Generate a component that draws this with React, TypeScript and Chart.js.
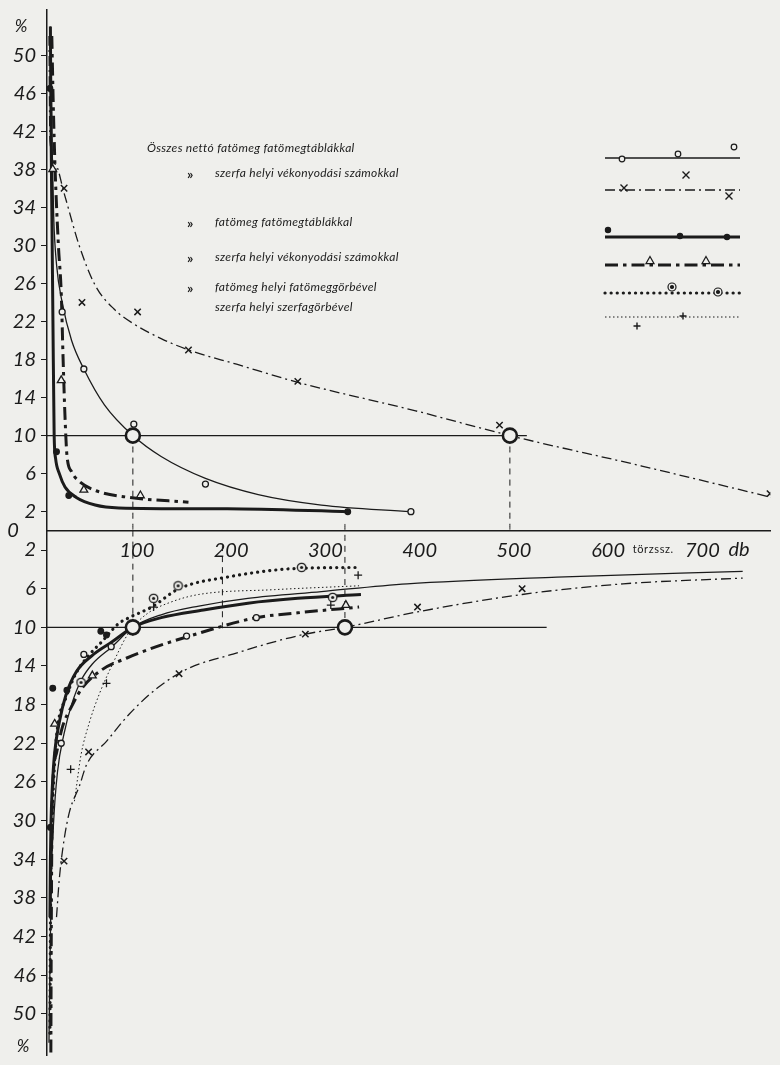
import React, { useEffect, useRef } from "react";
import { Chart, registerables } from "chart.js";

Chart.register(...registerables);

const BG = "#efefec";
const INK = "#1b1b1b";
const TICK_FONT = "Lato, 'DejaVu Sans', sans-serif";

// ---- axis ticks ----
const xTickValues = [100, 200, 300, 400, 500, 600, 700];
const yTickValues = [2, 6, 10, 14, 18, 22, 26, 30, 34, 38, 42, 46, 50];

// ---- legend texts ----
const legendTexts = [
  "Összes nettó fatömeg fatömegtáblákkal",
  "szerfa helyi vékonyodási számokkal",
  "fatömeg fatömegtáblákkal",
  "szerfa helyi vékonyodási számokkal",
  "fatömeg helyi fatömeggörbével",
  "szerfa helyi szerfagörbével",
];

// ---- series 1: összes nettó fatömeg fatömegtáblákkal (thin solid, open circles) ----
const s1Top = [[12.5, 53], [14, 42], [16, 33], [19, 28], [25, 24], [35, 20], [48, 17], [70, 13.2], [100, 10], [130, 7.8], [177, 5.5], [233, 3.8], [300, 2.7], [395, 2.0]];
const s1TopMarks = [[25, 23], [48, 17], [101, 11.2], [177, 4.9], [395, 2.0]];
const s1Bottom = [[11, -53], [12, -45], [13.5, -36], [16, -30], [20, -25], [27, -21], [35, -18], [45, -15.5], [57, -13.8], [78, -12.0], [100, -10], [130, -8.7], [170, -7.8], [222, -7.0], [300, -6.3], [391, -5.5], [550, -4.8], [747, -4.2]];
const s1BottomMarks = [[24, -22], [48, -12.8], [77, -12], [157, -10.9], [231, -9]];

// ---- series 2: összes szerfa helyi vékonyodási számokkal (thin dash-dot, crosses) ----
const s2Top = [[11, 52], [12, 41], [18, 38.5], [27, 35.5], [43, 30], [60, 25.8], [80, 23.3], [100, 21.8], [130, 20.2], [159, 19], [210, 17.5], [275, 15.6], [400, 12.6], [500, 10], [640, 6.8], [782, 3.4]];
const s2TopMarks = [[27, 36], [46, 24], [105, 23], [159, 19], [275, 15.7], [489, 11.1], [776, 3.9]];
const s2Bottom = [[19, -40], [22, -36], [27, -32], [33, -29], [43, -26.5], [51, -24.2], [72, -21.8], [96, -19], [127, -16.2], [160, -14.2], [205, -12.8], [250, -11.5], [283, -10.7], [325, -10], [402, -8.4], [513, -6.6], [620, -5.5], [747, -4.9]];
const s2BottomMarks = [[27, -34.2], [53, -22.9], [149, -14.8], [283, -10.7], [402, -7.9], [513, -6.0]];

// ---- series 3: fatömeg fatömegtáblákkal (thick solid, filled dots) ----
const s3Top = [[12.5, 53], [13.2, 42], [14.2, 32], [15.2, 22], [16.5, 10], [18, 7.6], [22, 6], [28, 4.6], [40, 3.5], [60, 2.7], [85, 2.4], [200, 2.3], [330, 2.0]];
const s3TopMarks = [[12, 46.5], [19, 8.3], [32, 3.7], [328, 2.0]];
const s3Bottom = [[12, -40], [12.5, -34], [13.2, -30], [14.5, -26.6], [17, -23], [22, -19.8], [29, -17], [40, -14.6], [57, -12.9], [78, -11.5], [100, -10], [130, -9], [175, -8.2], [222, -7.5], [275, -7.0], [342, -6.6]];
const s3BottomMarks = [[12.5, -30.7], [15, -16.3], [30, -16.5], [66, -10.4], [72, -10.8]];

// ---- series 4: szerfa helyi vékonyodási számokkal (thick dash-dot, triangles) ----
const s4Top = [[14, 52], [15.5, 45], [17.5, 38], [21, 30], [24, 25], [26, 18], [28, 12], [30, 8], [35, 6.2], [43, 5.2], [61, 4.2], [96, 3.5], [159, 3.0]];
const s4TopMarks = [[15, 38], [24, 15.8], [48, 4.3], [108, 3.7]];
const s4Bottom = [[13, -54], [13.3, -45], [13.8, -35], [14.8, -27], [19, -23], [25, -20.4], [36, -18], [46, -16.3], [67, -14.4], [93, -13.2], [125, -12], [157, -11], [231, -9], [275, -8.5], [340, -7.9]];
const s4BottomMarks = [[17, -20], [57, -15], [326, -7.7]];

// ---- series 5: fatömeg helyi fatömeggörbével (thick dotted, circled dots) ----
const s5Bottom = [[12, -52], [12.6, -40], [14.5, -30], [17, -24], [20, -20.4], [29, -17.3], [40, -14.7], [56, -12.6], [67, -11.5], [85, -9.6], [96, -9], [120, -7.9], [149, -6], [200, -4.8], [275, -3.9], [342, -3.8]];
const s5BottomMarks = [[45, -15.7], [122, -7.0], [148, -5.7], [279, -3.8], [312, -6.9]];

// ---- series 6: szerfa helyi szerfagörbével (fine dotted, plus) ----
const s6Bottom = [[38, -28], [40, -26.6], [45, -23.2], [54, -19.8], [64, -17], [78, -13.9], [96, -10.5], [115, -8.6], [140, -7.4], [170, -6.6], [250, -6.1], [340, -5.7]];
const s6BottomMarks = [[34, -24.7], [72, -15.8], [122, -7.9], [310, -7.7], [339, -4.6]];

// ---- reference marks ----
const level10Top = [[8.9, 10], [518, 10]];
const level10Bottom = [[8.9, -10], [539, -10]];
const dashed100Top = [[100, 10], [100, 0]];
const dashed100Bottom = [[100, 0], [100, -11]];
const dashed500 = [[500, 10], [500, 0]];
const dashed195 = [[195, -1.5], [195, -10.5]];
const dashed325 = [[325, 0.7], [325, -10]];
const bigCirclesTop = [[100, 10], [500, 10]];
const bigCirclesBottom = [[100, -10], [325, -10]];

// the lower (mirrored) half is drawn slightly taller than the upper half
const TOP_PX_PER_UNIT = 9.6;
const BOTTOM_PX_PER_UNIT = 9.75;
const K = BOTTOM_PX_PER_UNIT / TOP_PX_PER_UNIT;

const toPts = (a: number[][]) => a.map(([x, y]) => ({ x, y }));

const DASHDOT_THIN = [10, 4, 2, 4];
const DASHDOT_THICK = [13, 5, 3.5, 5];
const DOTTED_THICK = [0.1, 6];
const DOTTED_FINE = [1.5, 2.5];

function makeCircleDot(): HTMLCanvasElement {
  const c = document.createElement("canvas");
  c.width = 11;
  c.height = 11;
  const g = c.getContext("2d")!;
  g.fillStyle = BG;
  g.strokeStyle = INK;
  g.lineWidth = 1.3;
  g.beginPath();
  g.arc(5.5, 5.5, 4.2, 0, Math.PI * 2);
  g.fill();
  g.stroke();
  g.fillStyle = INK;
  g.beginPath();
  g.arc(5.5, 5.5, 1.6, 0, Math.PI * 2);
  g.fill();
  return c;
}

function lineDs(data: number[][], axis: string, width: number, dash: number[], cap: CanvasLineCap = "butt") {
  return {
    data: toPts(data),
    yAxisID: axis,
    showLine: true,
    pointRadius: 0,
    borderColor: INK,
    borderWidth: width,
    borderDash: dash,
    borderCapStyle: cap,
    cubicInterpolationMode: "monotone",
    tension: 0.4,
    fill: false,
    order: 3,
  };
}

function markDs(data: number[][], axis: string, style: any, radius: number, filled: boolean, bw = 1.3) {
  return {
    data: toPts(data),
    yAxisID: axis,
    showLine: false,
    pointStyle: style,
    pointRadius: radius,
    pointBorderWidth: bw,
    pointBorderColor: INK,
    pointBackgroundColor: filled ? INK : BG,
    order: 2,
  };
}

function bigDs(data: number[][], axis: string) {
  return {
    data: toPts(data),
    yAxisID: axis,
    showLine: false,
    pointStyle: "circle",
    pointRadius: 7,
    pointBorderWidth: 2.6,
    pointBorderColor: INK,
    pointBackgroundColor: BG,
    order: 1,
  };
}

const zeroPad = (s: any) => {
  s.paddingTop = 0;
  s.paddingBottom = 0;
  s.paddingLeft = 0;
  s.paddingRight = 0;
};

// legend + extra labels, drawn on top of chart
const decorPlugin = {
  id: "decor",
  afterDraw(chart: any) {
    const ctx: CanvasRenderingContext2D = chart.ctx;
    const xs = chart.scales.x;
    const ys = chart.scales.y;
    const yb = chart.scales.yb;
    ctx.save();
    ctx.fillStyle = INK;
    ctx.strokeStyle = INK;

    // axis extras
    ctx.font = `italic 20px ${TICK_FONT}`;
    ctx.textAlign = "center";
    ctx.textBaseline = "middle";
    ctx.fillText("0", 13, ys.getPixelForValue(0));
    ctx.font = `italic 17px ${TICK_FONT}`;
    ctx.fillText("%", 21, ys.getPixelForValue(53.0));
    ctx.fillText("%", 23, yb.getPixelForValue(-53.4));
    ctx.font = `italic 20px ${TICK_FONT}`;
    ctx.textAlign = "left";
    ctx.fillText("db", xs.getPixelForValue(700) + 30, ys.getPixelForValue(0) + 19);
    ctx.font = `11px ${TICK_FONT}`;
    (ctx as any).letterSpacing = "0.6px";
    ctx.textAlign = "center";
    ctx.fillText("törzssz.", xs.getPixelForValue(650) + 2, ys.getPixelForValue(0) + 19);
    (ctx as any).letterSpacing = "0.3px";

    // legend texts
    ctx.font = `italic 12px ${TICK_FONT}`;
    ctx.textAlign = "left";
    const rowsY = [148, 173, 222, 257, 287, 307];
    ctx.fillText(legendTexts[0], 147, rowsY[0]);
    for (let i = 1; i < 6; i++) {
      ctx.fillText(legendTexts[i], 215, rowsY[i]);
    }
    (ctx as any).letterSpacing = "0px";
    ctx.font = `bold 14px ${TICK_FONT}`;
    for (let i = 1; i < 5; i++) ctx.fillText("»", 187, rowsY[i] + 1);

    // legend samples
    const x0 = 605, x1 = 740;
    const seg = (y: number, w: number, dash: number[], cap: CanvasLineCap = "butt") => {
      ctx.beginPath();
      ctx.lineWidth = w;
      ctx.lineCap = cap;
      ctx.setLineDash(dash);
      ctx.moveTo(x0, y);
      ctx.lineTo(x1, y);
      ctx.stroke();
      ctx.setLineDash([]);
      ctx.lineCap = "butt";
    };
    const circ = (x: number, y: number, r: number, filled: boolean) => {
      ctx.beginPath();
      ctx.lineWidth = 1.2;
      ctx.arc(x, y, r, 0, Math.PI * 2);
      ctx.fillStyle = filled ? INK : BG;
      ctx.fill();
      ctx.stroke();
      ctx.fillStyle = INK;
    };
    const cross = (x: number, y: number, r: number, rot: boolean) => {
      ctx.beginPath();
      ctx.lineWidth = 1.4;
      if (rot) {
        ctx.moveTo(x - r, y - r); ctx.lineTo(x + r, y + r);
        ctx.moveTo(x - r, y + r); ctx.lineTo(x + r, y - r);
      } else {
        ctx.moveTo(x - r, y); ctx.lineTo(x + r, y);
        ctx.moveTo(x, y - r); ctx.lineTo(x, y + r);
      }
      ctx.stroke();
    };
    const tri = (x: number, y: number, r: number) => {
      ctx.beginPath();
      ctx.lineWidth = 1.2;
      ctx.moveTo(x, y - r);
      ctx.lineTo(x + r * 0.9, y + r * 0.6);
      ctx.lineTo(x - r * 0.9, y + r * 0.6);
      ctx.closePath();
      ctx.fillStyle = BG;
      ctx.fill();
      ctx.stroke();
      ctx.fillStyle = INK;
    };
    seg(158, 1.3, []);
    circ(622, 159, 2.8, false); circ(678, 154, 2.8, false); circ(734, 147, 2.8, false);
    seg(190, 1.3, DASHDOT_THIN);
    cross(624, 188, 3.5, true); cross(686, 175, 3.5, true); cross(729, 196, 3.5, true);
    seg(237, 3, []);
    circ(608, 230, 2.6, true); circ(680, 236, 2.6, true); circ(727, 237, 2.6, true);
    seg(265, 3, DASHDOT_THICK);
    tri(650, 261, 4.5); tri(706, 261, 4.5);
    seg(293, 3.2, DOTTED_THICK, "round");
    circ(672, 287, 4, false); circ(672, 287, 1.5, true);
    circ(718, 292, 4, false); circ(718, 292, 1.5, true);
    seg(317, 1, DOTTED_FINE);
    cross(637, 326, 3.5, false); cross(683, 316, 3.5, false);

    ctx.restore();
  },
};

const tickFont = { family: TICK_FONT, size: 20, style: "italic" };

export default function App() {
  const ref = useRef<HTMLCanvasElement | null>(null);

  useEffect(() => {
    if (!ref.current) return;
    const circleDot = makeCircleDot();
    const T = "y";
    const B = "yb";
    const datasets: any[] = [
      lineDs(level10Top, T, 1.3, []),
      lineDs(level10Bottom, B, 1.3, []),
      lineDs(dashed100Top, T, 1, [6, 5]),
      lineDs(dashed100Bottom, B, 1, [6, 5]),
      lineDs(dashed500, T, 1, [6, 5]),
      lineDs(dashed195, B, 1, [6, 5]),
      lineDs(dashed325, B, 1, [6, 5]),
      lineDs(s1Top, T, 1.3, []),
      lineDs(s1Bottom, B, 1.3, []),
      lineDs(s2Top, T, 1.3, DASHDOT_THIN),
      lineDs(s2Bottom, B, 1.3, DASHDOT_THIN),
      lineDs(s3Top, T, 3, []),
      lineDs(s3Bottom, B, 3, []),
      lineDs(s4Top, T, 3, DASHDOT_THICK),
      lineDs(s4Bottom, B, 3, DASHDOT_THICK),
      lineDs(s5Bottom, B, 3.2, DOTTED_THICK, "round"),
      lineDs(s6Bottom, B, 1, DOTTED_FINE),
      markDs(s1TopMarks, T, "circle", 3, false),
      markDs(s1BottomMarks, B, "circle", 3, false),
      markDs(s2TopMarks, T, "crossRot", 4.5, false, 1.5),
      markDs(s2BottomMarks, B, "crossRot", 4.5, false, 1.5),
      markDs(s3TopMarks, T, "circle", 2.8, true),
      markDs(s3BottomMarks, B, "circle", 2.8, true),
      markDs(s4TopMarks, T, "triangle", 4.5, false),
      markDs(s4BottomMarks, B, "triangle", 4.5, false),
      markDs(s5BottomMarks, B, circleDot, 5, false),
      markDs(s6BottomMarks, B, "cross", 4, false, 1.3),
      bigDs(bigCirclesTop, T),
      bigDs(bigCirclesBottom, B),
    ];

    const chart = new Chart(ref.current, {
      type: "scatter",
      data: { datasets },
      plugins: [decorPlugin],
      options: {
        animation: false,
        responsive: true,
        maintainAspectRatio: false,
        layout: { padding: { left: 0, right: 0, top: 10, bottom: 0 } },
        plugins: { legend: { display: false }, tooltip: { enabled: false } },
        scales: {
          x: {
            type: "linear",
            min: 8.9,
            max: 776.4,
            position: { y: 0 } as any,
            afterFit: zeroPad,
            afterBuildTicks: (s: any) => {
              s.ticks = xTickValues.map((v) => ({ value: v }));
            },
            grid: { display: false, drawTicks: false },
            border: { display: true, color: INK, width: 1.5 },
            ticks: {
              color: INK,
              font: tickFont,
              padding: 8,
              labelOffset: 4,
              maxRotation: 0,
              autoSkip: false,
              callback: (v: any) => String(v),
            },
          },
          // upper half: 0 at 535.5 px, 9.6 px per unit; also carries the
          // lower half's tick labels, placed where the lower scale puts them
          y: {
            type: "linear",
            min: -529.5 / TOP_PX_PER_UNIT,
            max: 525.5 / TOP_PX_PER_UNIT,
            position: "left",
            afterFit: (s: any) => {
              s.width = 47;
              zeroPad(s);
            },
            afterBuildTicks: (s: any) => {
              const lower = yTickValues.map((v) => ({ value: -v * K }));
              const upper = yTickValues.map((v) => ({ value: v }));
              s.ticks = [...lower.reverse(), ...upper];
            },
            grid: { display: true, drawOnChartArea: false, drawTicks: true, tickLength: 6, color: INK, lineWidth: 1 },
            border: { display: true, color: INK, width: 1.5 },
            ticks: {
              color: INK,
              font: tickFont,
              padding: 5,
              autoSkip: false,
              callback: (v: any) => {
                const n = Number(v);
                return String(n < 0 ? Math.round(-n / K) : Math.round(n));
              },
            },
          },
          // lower half (mirrored): 0 at 535.5 px, 9.75 px per unit
          yb: {
            type: "linear",
            display: false,
            min: -529.5 / BOTTOM_PX_PER_UNIT,
            max: 525.5 / BOTTOM_PX_PER_UNIT,
            position: "left",
          },
        },
      } as any,
    });
    return () => chart.destroy();
  }, []);

  return (
    <div style={{ position: "fixed", left: 0, top: 0, width: 780, height: 1065, background: BG }}>
      <canvas ref={ref} />
    </div>
  );
}
